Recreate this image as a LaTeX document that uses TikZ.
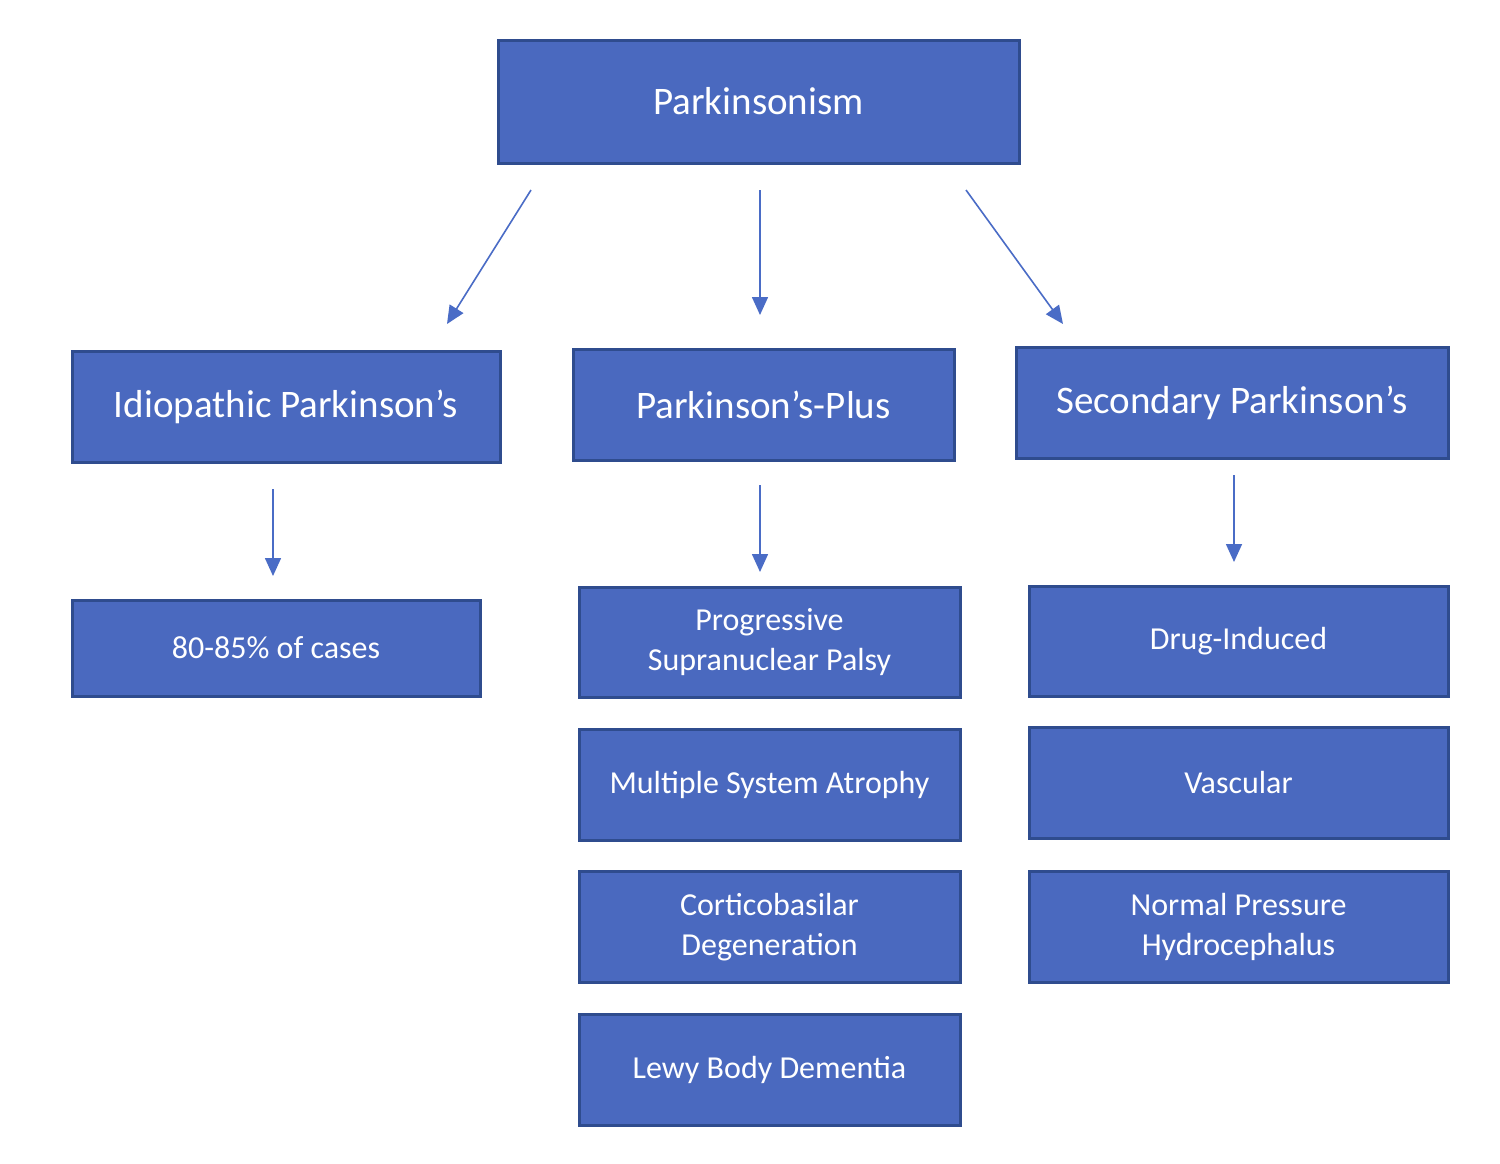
\documentclass[tikz,border=0pt]{standalone}
\usepackage{fontspec}
\setmainfont{Carlito}
\usetikzlibrary{arrows.meta}
\definecolor{boxfill}{HTML}{4A69BF}
\definecolor{boxline}{HTML}{2F4C8E}
\definecolor{arr}{HTML}{4A6CC6}
\tikzset{
  box/.style={draw=boxline, line width=1.5pt, fill=boxfill, text=white, align=center, inner sep=0pt},
  bigtxt/.style={font=\fontsize{19.5}{23}\selectfont},
  smalltxt/.style={font=\fontsize{16}{20}\selectfont},
  arrow/.style={draw=arr, line width=0.8pt, -{Triangle[length=9pt,width=8pt]}}
}
\newcommand{\lbl}[1]{\raisebox{-1pt}{\shortstack{#1}}}
\begin{document}
\begin{tikzpicture}[x=0.5pt,y=-0.5pt]
\useasboundingbox[fill=white] (0,0) rectangle (1500,1163);
% top
\node[box,bigtxt,minimum width=260.5pt,minimum height=61.5pt] (top) at (758.5,101.5) {\raisebox{-1pt}{Parkinsonism}};
% level 2
\node[box,bigtxt,minimum width=214pt,minimum height=55.5pt] (idio) at (286,406.5) {\raisebox{-1pt}{Idiopathic Parkinson’s}};
\node[box,bigtxt,minimum width=190.5pt,minimum height=55.5pt] (plus) at (763.5,404.5) {\raisebox{-0.5pt}{Parkinson’s-Plus}};
\node[box,bigtxt,minimum width=216pt,minimum height=55.5pt] (sec) at (1232,402.5) {\raisebox{-1pt}{Secondary Parkinson’s}};
% level 3
\node[box,smalltxt,minimum width=204pt,minimum height=48pt] (pct) at (276,648) {\raisebox{-1pt}{80-85\% of cases}};
\node[box,smalltxt,minimum width=190.5pt,minimum height=55pt] (psp) at (769.5,642) {Progressive\\Supranuclear Palsy};
\node[box,smalltxt,minimum width=190.5pt,minimum height=55.5pt] (msa) at (769.5,784.5) {\raisebox{-1.5pt}{Multiple System Atrophy}};
\node[box,smalltxt,minimum width=190.5pt,minimum height=55.5pt] (cbd) at (769.5,927) {Corticobasilar\\Degeneration};
\node[box,smalltxt,minimum width=190.5pt,minimum height=55.5pt] (lbd) at (769.5,1069.5) {\raisebox{-1.5pt}{Lewy Body Dementia}};
\node[box,smalltxt,minimum width=209.5pt,minimum height=55pt] (drug) at (1238.5,641) {\raisebox{-1.5pt}{Drug-Induced}};
\node[box,smalltxt,minimum width=209.5pt,minimum height=55.5pt] (vasc) at (1238.5,782.5) {\raisebox{-1pt}{Vascular}};
\node[box,smalltxt,minimum width=209.5pt,minimum height=55.5pt] (nph) at (1238.5,927) {Normal Pressure\\Hydrocephalus};
% arrow endpoints
\coordinate (a1s) at (531,190); \coordinate (a1e) at (447,324);
\coordinate (a2s) at (760,190); \coordinate (a2e) at (760,315);
\coordinate (a3s) at (966,190); \coordinate (a3e) at (1063,324);
\coordinate (b1s) at (273,489); \coordinate (b1e) at (273,576);
\coordinate (b2s) at (760,485); \coordinate (b2e) at (760,572);
\coordinate (b3s) at (1234,475); \coordinate (b3e) at (1234,562);
\draw[arrow] (a1s) -- (a1e);
\draw[arrow] (a2s) -- (a2e);
\draw[arrow] (a3s) -- (a3e);
\draw[arrow] (b1s) -- (b1e);
\draw[arrow] (b2s) -- (b2e);
\draw[arrow] (b3s) -- (b3e);
\end{tikzpicture}
\end{document}
